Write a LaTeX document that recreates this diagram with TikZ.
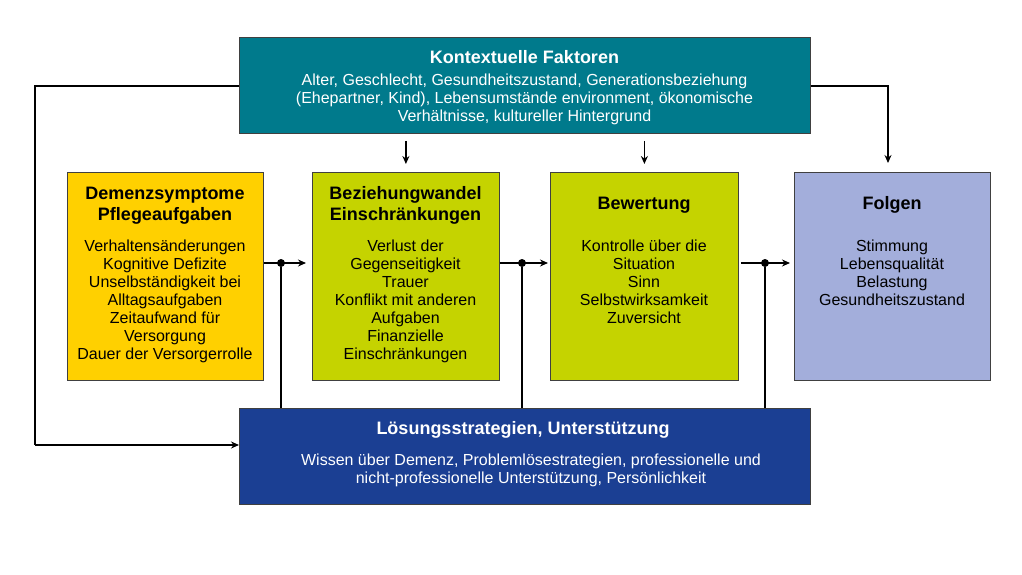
\documentclass[tikz,border=0pt]{standalone}
\usepackage{fontspec}
\setmainfont{Liberation Sans}
\usetikzlibrary{arrows.meta}
\definecolor{cteal}{HTML}{007A8C}
\definecolor{cyellow}{HTML}{FFD000}
\definecolor{cgreen}{HTML}{C5D300}
\definecolor{clav}{HTML}{A3AEDB}
\definecolor{cnavy}{HTML}{1B3F93}
\tikzset{
  box/.style={draw=black!75, line width=0.8pt, inner sep=0pt, anchor=north west},
  ttl/.style={font=\bfseries\fontsize{18}{21}\selectfont, align=center, anchor=north, inner sep=0pt},
  txt/.style={font=\fontsize{16}{18}\selectfont, align=center, anchor=north, inner sep=0pt},
  conn/.style={line width=1.6pt},
  arr/.style={line width=1.6pt, -{Stealth[length=8pt,width=7pt]}},
  dot/.style={circle, fill=black, inner sep=0pt, minimum size=8pt}
}
\begin{document}
\begin{tikzpicture}[x=1pt,y=-1pt]
\useasboundingbox (0,0) rectangle (1022,575);
% boxes
\node[box, fill=cteal, minimum width=571pt, minimum height=96pt] (k) at (239,37) {};
\node[box, fill=cyellow, minimum width=196pt, minimum height=208pt] (b1) at (67,172) {};
\node[box, fill=cgreen, minimum width=187pt, minimum height=208pt] (b2) at (312,172) {};
\node[box, fill=cgreen, minimum width=188pt, minimum height=208pt] (b3) at (550,172) {};
\node[box, fill=clav, minimum width=196pt, minimum height=208pt] (b4) at (794,172) {};
\node[box, fill=cnavy, minimum width=571pt, minimum height=96pt] (l) at (239,408) {};
% texts
\node[ttl, text=white] (kt) at (524.5,48.7) {\strut Kontextuelle Faktoren};
\node[txt, text=white] (kb) at (524.5,72.6) {\strut Alter, Geschlecht, Gesundheitszustand, Generationsbeziehung\\(Ehepartner, Kind), Lebensumstände environment, ökonomische\\Verhältnisse, kultureller Hintergrund};
\node[ttl] (b1t) at (165,184.7) {\strut Demenzsymptome\\Pflegeaufgaben};
\node[txt] (b1b) at (165,239.1) {\strut Verhaltensänderungen\\Kognitive Defizite\\Unselbständigkeit bei\\Alltagsaufgaben\\Zeitaufwand für\\Versorgung\\Dauer der Versorgerrolle};
\node[ttl] (b2t) at (405.5,184.7) {\strut Beziehungwandel\\Einschränkungen};
\node[txt] (b2b) at (405.5,239.1) {\strut Verlust der\\Gegenseitigkeit\\Trauer\\Konflikt mit anderen\\Aufgaben\\Finanzielle\\Einschränkungen};
\node[ttl] (b3t) at (644,194.7) {\strut Bewertung};
\node[txt] (b3b) at (644,239.1) {\strut Kontrolle über die\\Situation\\Sinn\\Selbstwirksamkeit\\Zuversicht};
\node[ttl] (b4t) at (892,194.7) {\strut Folgen};
\node[txt] (b4b) at (892,239.1) {\strut Stimmung\\Lebensqualität\\Belastung\\Gesundheitszustand};
\node[ttl, text=white] (lt) at (523,419.7) {\strut Lösungsstrategien, Unterstützung};
\node[txt, text=white] (lb) at (531,453.1) {\strut Wissen über Demenz, Problemlösestrategien, professionelle und\\nicht-professionelle Unterstützung, Persönlichkeit};
% connector points
\coordinate (kl) at (35,86);
\coordinate (kr) at (888,86);
\coordinate (ll) at (35,445);
\node[dot] (d1) at (281,263) {};
\node[dot] (d2) at (522,263) {};
\node[dot] (d3) at (765,263) {};
% connectors
\draw[arr] ([yshift=-7pt]k.south -| b2.north) -- ([yshift=8pt]b2.north);
\draw[arr] ([yshift=-7pt]k.south -| b3.north) -- ([yshift=8pt]b3.north);
\draw[arr] (kr -| k.east) -- (kr) -- ([yshift=9pt]kr |- b4.north);
\draw[conn] (kl -| k.west) -- (kl) -- (ll);
\draw[arr] (ll) -- (ll -| l.west);
\draw[arr] (d1 -| b1.east) -- ([xshift=-6pt]d1 -| b2.west);
\draw[arr] (d2 -| b2.east) -- ([xshift=-2pt]d2 -| b3.west);
\draw[arr] ([xshift=2pt]d3 -| b3.east) -- ([xshift=-4pt]d3 -| b4.west);
\draw[conn] (d1) -- (d1 |- l.north);
\draw[conn] (d2) -- (d2 |- l.north);
\draw[conn] (d3) -- (d3 |- l.north);
\end{tikzpicture}
\end{document}
